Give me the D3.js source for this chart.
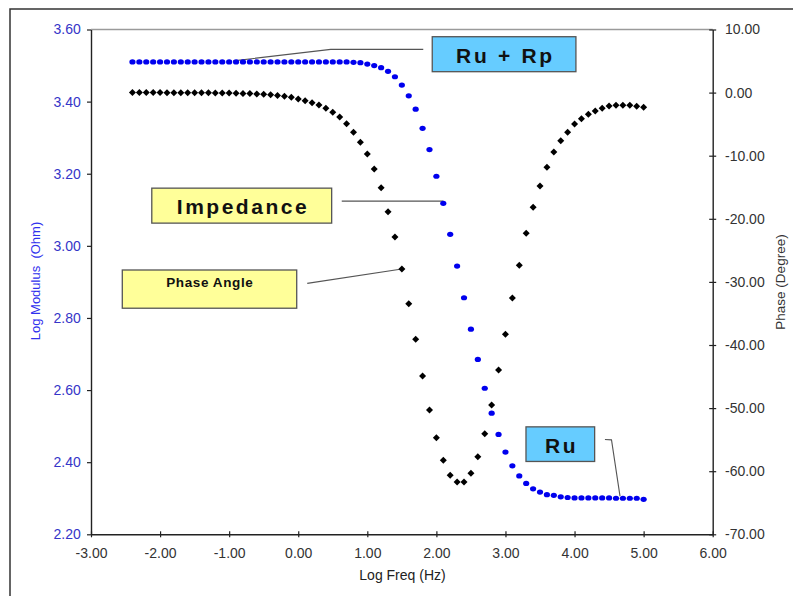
<!DOCTYPE html>
<html>
<head>
<meta charset="utf-8">
<script src="https://cdn.jsdelivr.net/npm/d3@7"></script>
<style>
  html, body { margin: 0; padding: 0; background: #fff; }
  svg { display: block; font-family: 'Liberation Sans', Arial, sans-serif; }
</style>
</head>
<body>
<div id="chart"></div>
<script>
// log10 of frequency (Hz), one reading every 0.1 decade
const logFreq = [
  -2.4, -2.3, -2.2, -2.1, -2.0, -1.9, -1.8, -1.7, -1.6, -1.5,
  -1.4, -1.3, -1.2, -1.1, -1.0, -0.9, -0.8, -0.7, -0.6, -0.5,
  -0.4, -0.3, -0.2, -0.1, 0.0, 0.1, 0.2, 0.3, 0.4, 0.5,
  0.6, 0.7, 0.8, 0.9, 1.0, 1.1, 1.2, 1.3, 1.4, 1.5,
  1.6, 1.7, 1.8, 1.9, 2.0, 2.1, 2.2, 2.3, 2.4, 2.5,
  2.6, 2.7, 2.8, 2.9, 3.0, 3.1, 3.2, 3.3, 3.4, 3.5,
  3.6, 3.7, 3.8, 3.9, 4.0, 4.1, 4.2, 4.3, 4.4, 4.5,
  4.6, 4.7, 4.8, 4.9, 5.0
]

// impedance, log |Z| (Ohm) - left axis
const logModulus = [
  3.510, 3.510, 3.510, 3.510, 3.510, 3.510, 3.510, 3.510, 3.510, 3.510,
  3.510, 3.510, 3.510, 3.510, 3.510, 3.510, 3.510, 3.510, 3.510, 3.510,
  3.510, 3.510, 3.510, 3.510, 3.510, 3.510, 3.510, 3.510, 3.510, 3.510,
  3.510, 3.510, 3.509, 3.508, 3.504, 3.500, 3.494, 3.484, 3.469, 3.446,
  3.416, 3.379, 3.326, 3.267, 3.193, 3.118, 3.032, 2.944, 2.856, 2.769,
  2.685, 2.605, 2.536, 2.477, 2.428, 2.390, 2.362, 2.341, 2.326, 2.317,
  2.310, 2.308, 2.304, 2.302, 2.301, 2.301, 2.301, 2.301, 2.301, 2.301,
  2.300, 2.300, 2.300, 2.300, 2.297
]

// phase angle (degree) - right axis
const phase = [
  0.00, 0.00, 0.00, 0.00, 0.00, -0.01, -0.01, -0.01, -0.02, -0.02,
  -0.03, -0.04, -0.05, -0.06, -0.08, -0.10, -0.13, -0.16, -0.21, -0.27,
  -0.34, -0.44, -0.57, -0.74, -1.02, -1.28, -1.60, -1.97, -2.49, -3.12,
  -3.87, -4.93, -6.29, -7.88, -9.73, -12.11, -15.07, -18.87, -22.88, -27.96,
  -33.45, -39.10, -44.91, -50.30, -54.69, -58.27, -60.65, -61.71, -61.71, -60.33,
  -57.70, -54.06, -49.51, -43.96, -38.30, -32.55, -27.37, -22.30, -18.18, -14.80,
  -11.84, -9.41, -7.62, -6.29, -4.98, -4.14, -3.44, -2.92, -2.49, -2.12,
  -2.01, -2.01, -2.01, -2.17, -2.33
]

const freqTicks = [-3, -2, -1, 0, 1, 2, 3, 4, 5, 6]
const modulusTicks = [2.2, 2.4, 2.6, 2.8, 3.0, 3.2, 3.4, 3.6]
const phaseTicks = [-70, -60, -50, -40, -30, -20, -10, 0, 10]

// callouts, placed in data units (log freq, log modulus)
const callouts = [
  { label: 'Ru + Rp', fill: '#66ccff', x0: 1.94, x1: 4.02, y0: 3.483, y1: 3.58, base: 3.508, size: 21, ls: 2.7,
    leader: [[-0.94, 3.513], [0.47, 3.545], [1.81, 3.545]] },
  { label: 'Impedance', fill: '#ffff99', x0: -2.12, x1: 0.484, y0: 3.063, y1: 3.160, base: 3.0875, size: 21, ls: 2.5,
    leader: [[0.63, 3.124], [2.10, 3.124]] },
  { label: 'Phase Angle', fill: '#ffff99', x0: -2.547, x1: -0.022, y0: 2.827, y1: 2.933, base: 2.885, size: 13.5, ls: 0.6,
    leader: [[0.13, 2.896], [1.50, 2.936]] },
  { label: 'Ru', fill: '#66ccff', x0: 3.297, x1: 4.291, y0: 2.402, y1: 2.498, base: 2.426, size: 21, ls: 2.8,
    leader: [[4.44, 2.463], [4.535, 2.462], [4.658, 2.306]] }
]

const width = 793
const height = 596
const margin = { top: 29.5, right: 80.3, bottom: 61.7, left: 91 }

const svg = d3.select('#chart')
  .append('svg')
  .attr('width', width)
  .attr('height', height)

// outer chart frame (runs off the right and bottom of the picture)
svg.append('path')
  .attr('d', `M10,${height + 5}V9H${width + 5}`)
  .attr('fill', 'none')
  .attr('stroke', '#333')
  .attr('stroke-width', 1.5)

const x = d3.scaleLinear()
  .domain([-3, 6])
  .range([margin.left, width - margin.right])

const yMod = d3.scaleLinear()
  .domain([2.2, 3.6])
  .range([height - margin.bottom, margin.top])

const yPh = d3.scaleLinear()
  .domain([-70, 10])
  .range([height - margin.bottom, margin.top])

const fmt = d => d.toFixed(2)

// top border of the plot area
svg.append('line')
  .attr('x1', x(-3))
  .attr('x2', x(6))
  .attr('y1', yMod(3.6))
  .attr('y2', yMod(3.6))
  .attr('stroke', '#9a9a9a')
  .attr('stroke-width', 1.3)

const xAxis = svg.append('g')
  .attr('transform', `translate(0,${height - margin.bottom})`)
  .call(d3.axisBottom(x).tickValues(freqTicks).tickFormat(fmt).tickSizeOuter(0))
xAxis.selectAll('.tick line').attr('y1', -3).attr('y2', 3)
xAxis.selectAll('.tick text').attr('y', 24).attr('dy', 0)

const yAxisL = svg.append('g')
  .attr('transform', `translate(${margin.left},0)`)
  .call(d3.axisLeft(yMod).tickValues(modulusTicks).tickFormat(fmt).tickSize(4).tickPadding(6.3).tickSizeOuter(0))
yAxisL.selectAll('.tick text').attr('fill', '#3535c8')

const yAxisR = svg.append('g')
  .attr('transform', `translate(${width - margin.right},0)`)
  .call(d3.axisRight(yPh).tickValues(phaseTicks).tickFormat(fmt).tickSize(3.5).tickPadding(8.8).tickSizeOuter(0))
yAxisR.selectAll('.tick line').attr('x1', -3.5)

svg.selectAll('.domain')
  .attr('stroke', '#222')
  .attr('stroke-width', 1.4)
svg.selectAll('.tick line')
  .attr('stroke', '#222')
  .attr('stroke-width', 1.2)
svg.selectAll('.tick text')
  .attr('font-size', 14)
  .attr('font-family', "'Liberation Sans', Arial, sans-serif")
xAxis.selectAll('.tick text').attr('fill', '#333')
yAxisR.selectAll('.tick text').attr('fill', '#333')

// axis titles
svg.append('text')
  .attr('x', 402.5)
  .attr('y', 580)
  .attr('text-anchor', 'middle')
  .attr('font-size', 14)
  .attr('fill', '#222')
  .text('Log Freq (Hz)')

svg.append('text')
  .attr('transform', 'translate(39.5,281) rotate(-90)')
  .attr('text-anchor', 'middle')
  .attr('font-size', 13)
  .attr('fill', '#3030ee')
  .text('Log Modulus\u00a0\u00a0(Ohm)')

svg.append('text')
  .attr('transform', 'translate(785,282) rotate(-90)')
  .attr('text-anchor', 'middle')
  .attr('font-size', 13.5)
  .attr('fill', '#333')
  .text('Phase (Degree)')

// callout leaders and boxes
const line = d3.line().x(d => x(d[0])).y(d => yMod(d[1]))

const note = svg.append('g')
  .selectAll('g')
  .data(callouts)
  .join('g')

note.append('path')
  .attr('d', d => line(d.leader))
  .attr('fill', 'none')
  .attr('stroke', '#555')
  .attr('stroke-width', 1.1)

note.append('rect')
  .attr('x', d => x(d.x0))
  .attr('y', d => yMod(d.y1))
  .attr('width', d => x(d.x1) - x(d.x0))
  .attr('height', d => yMod(d.y0) - yMod(d.y1))
  .attr('fill', d => d.fill)
  .attr('stroke', '#555')
  .attr('stroke-width', 1.3)

note.append('text')
  .attr('x', d => (x(d.x0) + x(d.x1)) / 2 + d.ls / 2)
  .attr('y', d => yMod(d.base))
  .attr('text-anchor', 'middle')
  .attr('font-size', d => d.size)
  .attr('font-weight', 'bold')
  .attr('letter-spacing', d => d.ls)
  .attr('fill', '#111')
  .text(d => d.label)

// data
const points = logFreq.map((f, i) => ({ f, mod: logModulus[i], ph: phase[i] }))

svg.append('g')
  .selectAll('path')
  .data(points)
  .join('path')
  .attr('transform', d => `translate(${x(d.f)},${yPh(d.ph)})`)
  .attr('d', 'M0,-3.5L3.5,0L0,3.5L-3.5,0Z')
  .attr('fill', '#000')

svg.append('g')
  .selectAll('ellipse')
  .data(points)
  .join('ellipse')
  .attr('cx', d => x(d.f))
  .attr('cy', d => yMod(d.mod))
  .attr('rx', 3.1)
  .attr('ry', 2.6)
  .attr('fill', '#0000ee')
</script>
</body>
</html>
